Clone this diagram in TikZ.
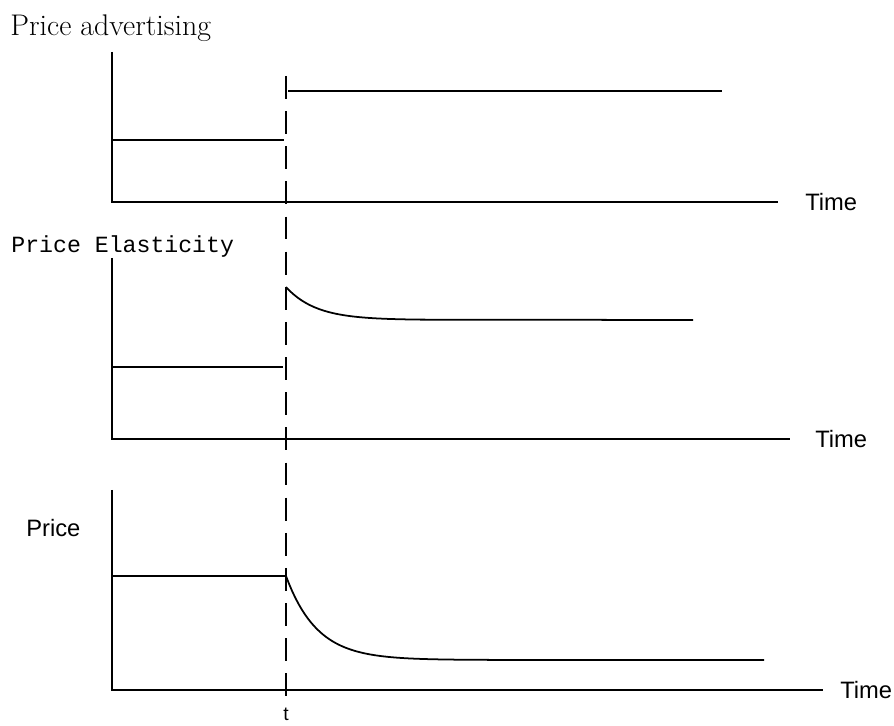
\documentclass[tikz,border=0pt]{standalone}
\usepackage{fontspec}
\newfontfamily\labelsans{Liberation Sans}
\newfontfamily\labelmono{Liberation Mono}
\usetikzlibrary{positioning}

\begin{document}
\begin{tikzpicture}[x=0.02cm, y=-0.02cm]

\tikzstyle{axis} = [draw, line width=1.1pt]
\tikzstyle{level} = [draw, line width=1pt]
\tikzstyle{cut} = [draw, line width=0.8pt, dash pattern=on 13pt off 7pt]
\tikzstyle{timelabel} = [font=\labelsans\fontsize{13.5}{16}\selectfont, anchor=west, inner sep=0pt]
\tikzstyle{title} = [anchor=base west, inner sep=0pt]

	\useasboundingbox (0,0) rectangle (894,726);

	% Price advertising
	\coordinate (adv_o) at (112,202);
	\coordinate (adv_top) at (112,52);
	\coordinate (adv_end) at (778,202);
	\coordinate (adv_low) at (112,140);
	\coordinate (adv_lowend) at (284,140);
	\coordinate (adv_high) at (288,91);
	\coordinate (adv_highend) at (722,91);

	\node [title, font=\fontsize{17}{20}\selectfont] (adv_title) at (10,36) {Price advertising};
	\node [timelabel, right=0.54cm of adv_end] (adv_time) {Time};

	\path [axis] (adv_top) -- (adv_o) -- (adv_end);
	\path [level] (adv_low) -- (adv_lowend);
	\path [level] (adv_high) -- (adv_highend);

	% Price Elasticity
	\coordinate (elast_o) at (112,439);
	\coordinate (elast_top) at (112,258);
	\coordinate (elast_end) at (790,439);
	\coordinate (elast_low) at (112,367);
	\coordinate (elast_lowend) at (283,367);

	\node [title, font=\labelmono\fontsize{13.2}{16}\selectfont] (elast_title) at (11,253) {Price Elasticity};
	\node [timelabel, right=0.5cm of elast_end] (elast_time) {Time};

	\path [axis] (elast_top) -- (elast_o) -- (elast_end);
	\path [level] (elast_low) -- (elast_lowend);
	\draw [line width=1pt] plot [domain=286:420, samples=50] (\x, {320-33*exp(-(\x-286)/30)}) -- (693,320);

	% Price
	\coordinate (price_o) at (112,690);
	\coordinate (price_top) at (112,490);
	\coordinate (price_end) at (823,690);
	\coordinate (price_high) at (112,576);
	\coordinate (price_highend) at (286,576);

	\node [title, font=\labelsans\fontsize{13.5}{15}\selectfont] (price_label) at (26,537) {Price};
	\node [timelabel, right=0.34cm of price_end] (price_time) {Time};

	\path [axis] (price_top) -- (price_o) -- (price_end);
	\path [level] (price_high) -- (price_highend);
	\draw [line width=1pt] plot [domain=286:500, samples=70] (\x, {660-84*exp(-(\x-286)/31)}) -- (764,660);

	% moment of change
	\coordinate (cut_top) at (286,76);
	\coordinate (cut_bot) at (286,706);
	\node [font=\labelsans\fontsize{11}{13}\selectfont, inner sep=0pt, anchor=base] (shock_t) at (286,721) {t};

	\path [cut] (cut_top) -- (cut_bot);

\end{tikzpicture}
\end{document}
